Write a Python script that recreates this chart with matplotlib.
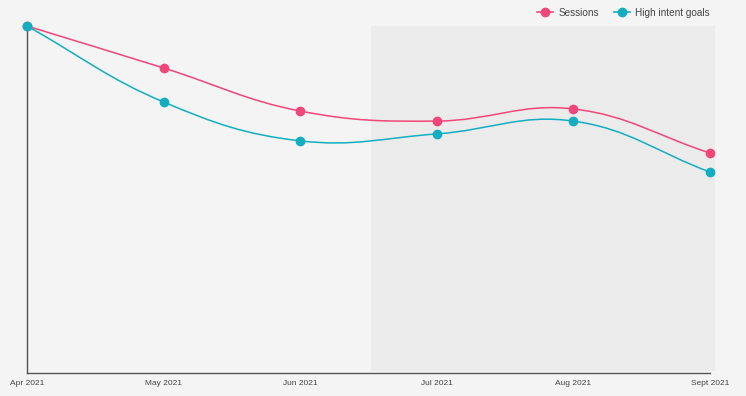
"""Sessions vs high intent goals, Apr-Sept 2021."""

import matplotlib
matplotlib.use('Agg')
import matplotlib.pyplot as plt
import numpy as np
from matplotlib.lines import Line2D
from matplotlib.path import Path
from matplotlib.patches import PathPatch


MONTHS = ['Apr 2021', 'May 2021', 'Jun 2021', 'Jul 2021', 'Aug 2021',
          'Sept 2021']
SESSIONS = [100, 87.9, 75.5, 72.6, 76.1, 63.4]
HIGH_INTENT = [100, 78.1, 66.9, 68.9, 72.6, 57.9]

PINK = '#f0467a'
TEAL = '#12aec0'
BG = '#f4f4f4'
SHADE = '#ebebeb'

# pixel scale used for the spline control points
_X_PX = 136.6
_Y_PX = 3.47
_TENSION = 0.4


def _spline_path(x, y):
    px = np.asarray(x, float) * _X_PX
    py = np.asarray(y, float) * _Y_PX
    n = len(px)
    cp_prev = []
    cp_next = []
    for i in range(n):
        p0 = (px[max(i - 1, 0)], py[max(i - 1, 0)])
        p1 = (px[i], py[i])
        p2 = (px[min(i + 1, n - 1)], py[min(i + 1, n - 1)])
        d01 = np.hypot(p1[0] - p0[0], p1[1] - p0[1])
        d12 = np.hypot(p2[0] - p1[0], p2[1] - p1[1])
        tot = d01 + d12
        s01 = d01 / tot if tot else 0
        s12 = d12 / tot if tot else 0
        fa = _TENSION * s01
        fb = _TENSION * s12
        cp_prev.append((p1[0] - fa * (p2[0] - p0[0]),
                        p1[1] - fa * (p2[1] - p0[1])))
        cp_next.append((p1[0] + fb * (p2[0] - p0[0]),
                        p1[1] + fb * (p2[1] - p0[1])))
    verts = [(px[0], py[0])]
    codes = [Path.MOVETO]
    for i in range(n - 1):
        verts += [cp_next[i], cp_prev[i + 1], (px[i + 1], py[i + 1])]
        codes += [Path.CURVE4] * 3
    verts = [(vx / _X_PX, vy / _Y_PX) for vx, vy in verts]
    return Path(verts, codes)


def _plot_series(ax, x, y, color):
    ax.add_patch(PathPatch(_spline_path(x, y), facecolor='none',
                           edgecolor=color, lw=1.1, zorder=3))
    ax.plot(x, y, 'o', color=color, ms=6, zorder=4, clip_on=False)


def _main():
    plt.rcParams['font.family'] = ['Liberation Sans', 'DejaVu Sans']
    fig = plt.figure(figsize=(7.46, 3.96), dpi=100, facecolor=BG)
    ax = fig.add_axes([27 / 746, 1 - 373 / 396, 688 / 746, 347 / 396])
    ax.set_facecolor(BG)

    x = np.arange(len(MONTHS))
    xmax = 5 * 688 / 683
    ax.axvspan(2.52, xmax, ymin=0.006, ymax=1, color=SHADE, lw=0, zorder=0)

    _plot_series(ax, x, SESSIONS, PINK)
    _plot_series(ax, x, HIGH_INTENT, TEAL)

    ax.set_xlim(0, xmax)
    ax.set_ylim(0, 100)
    ax.set_xticks(x)
    ax.set_xticklabels(MONTHS, fontsize=6, color='#444444')
    ax.tick_params(axis='x', length=0, pad=5)
    ax.set_yticks([])
    for side in ['top', 'right']:
        ax.spines[side].set_visible(False)
    for side in ['left', 'bottom']:
        ax.spines[side].set_color('#555555')
        ax.spines[side].set_linewidth(1.0)
    ax.spines['bottom'].set_bounds(0, 5)

    handles = [
        Line2D([], [], color=PINK, marker='o', ms=6, lw=1.2),
        Line2D([], [], color=TEAL, marker='o', ms=6, lw=1.2),
    ]
    fig.legend(handles, ['Sessions', 'High intent goals'], loc='upper right',
               bbox_to_anchor=(0.963, 1.003), ncol=2, frameon=False,
               fontsize=7.2, handlelength=1.6, columnspacing=1.5,
               handletextpad=0.5, labelcolor='#444444')

    fig.savefig('out.png', dpi=100, facecolor=BG)


if __name__ == '__main__':
    _main()
